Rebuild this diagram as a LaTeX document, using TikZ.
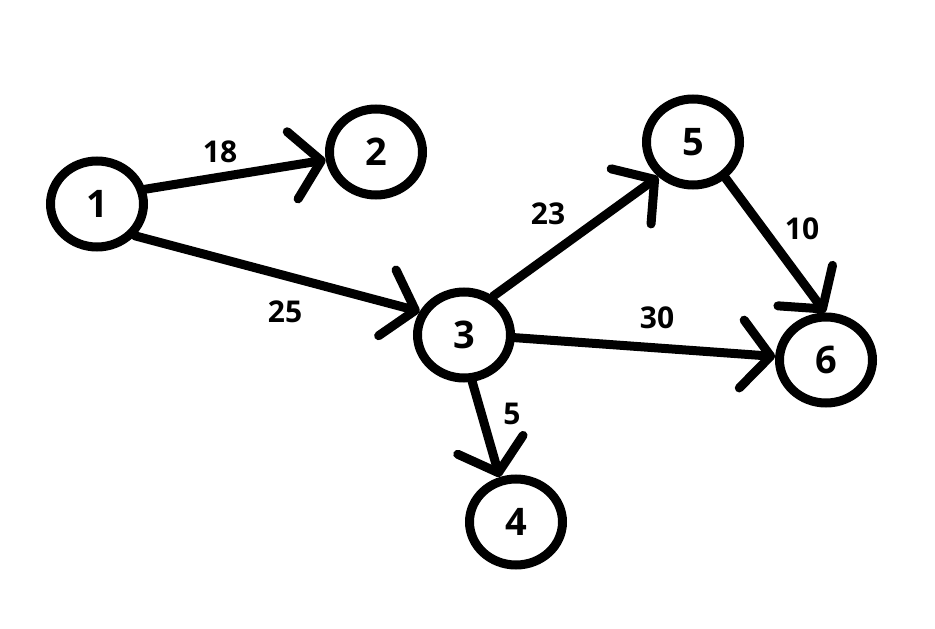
\documentclass[tikz,border=0pt]{standalone}
\usepackage{fontspec}
\setmainfont{Open Sans}
\usetikzlibrary{arrows.meta,shapes.geometric}
\tikzset{
  vertex/.style={ellipse,draw=black,line width=9pt,minimum width=93pt,minimum height=86pt,inner sep=0pt,
    font=\fontsize{38}{42}\selectfont\bfseries},
  edge/.style={line width=9pt,line cap=round,-{Straight Barb[length=29pt,width=68pt,round]}},
  wlabel/.style={font=\fontsize{30}{35}\selectfont\bfseries,inner sep=0pt}
}
\begin{document}
\begin{tikzpicture}[x=1pt,y=-1pt]
\useasboundingbox[fill=white] (0,0) rectangle (935,629);
\node[vertex] (n1) at (97,204) {1};
\node[vertex] (n2) at (376,152) {2};
\node[vertex] (n3) at (464,335) {3};
\node[vertex] (n4) at (516,522) {4};
\node[vertex] (n5) at (693,142) {5};
\node[vertex] (n6) at (826,360) {6};
\draw[edge] (n1.17) -- (n2.189);
\draw[edge] (n1.-40) -- (n3.152);
\draw[edge] (n3.53) -- (n5.225);
\draw[edge] (n3.-3) -- (n6.176);
\draw[edge] (n5.-48) -- (n6.91);
\draw[edge] (n3.-80) -- (n4.110);
\node[wlabel] (l12) at (220,152) {18};
\node[wlabel] (l13) at (285,312) {25};
\node[wlabel] (l35) at (548,214) {23};
\node[wlabel] (l36) at (657,318) {30};
\node[wlabel] (l56) at (802,229) {10};
\node[wlabel] (l34) at (512,414) {5};
\end{tikzpicture}
\end{document}
